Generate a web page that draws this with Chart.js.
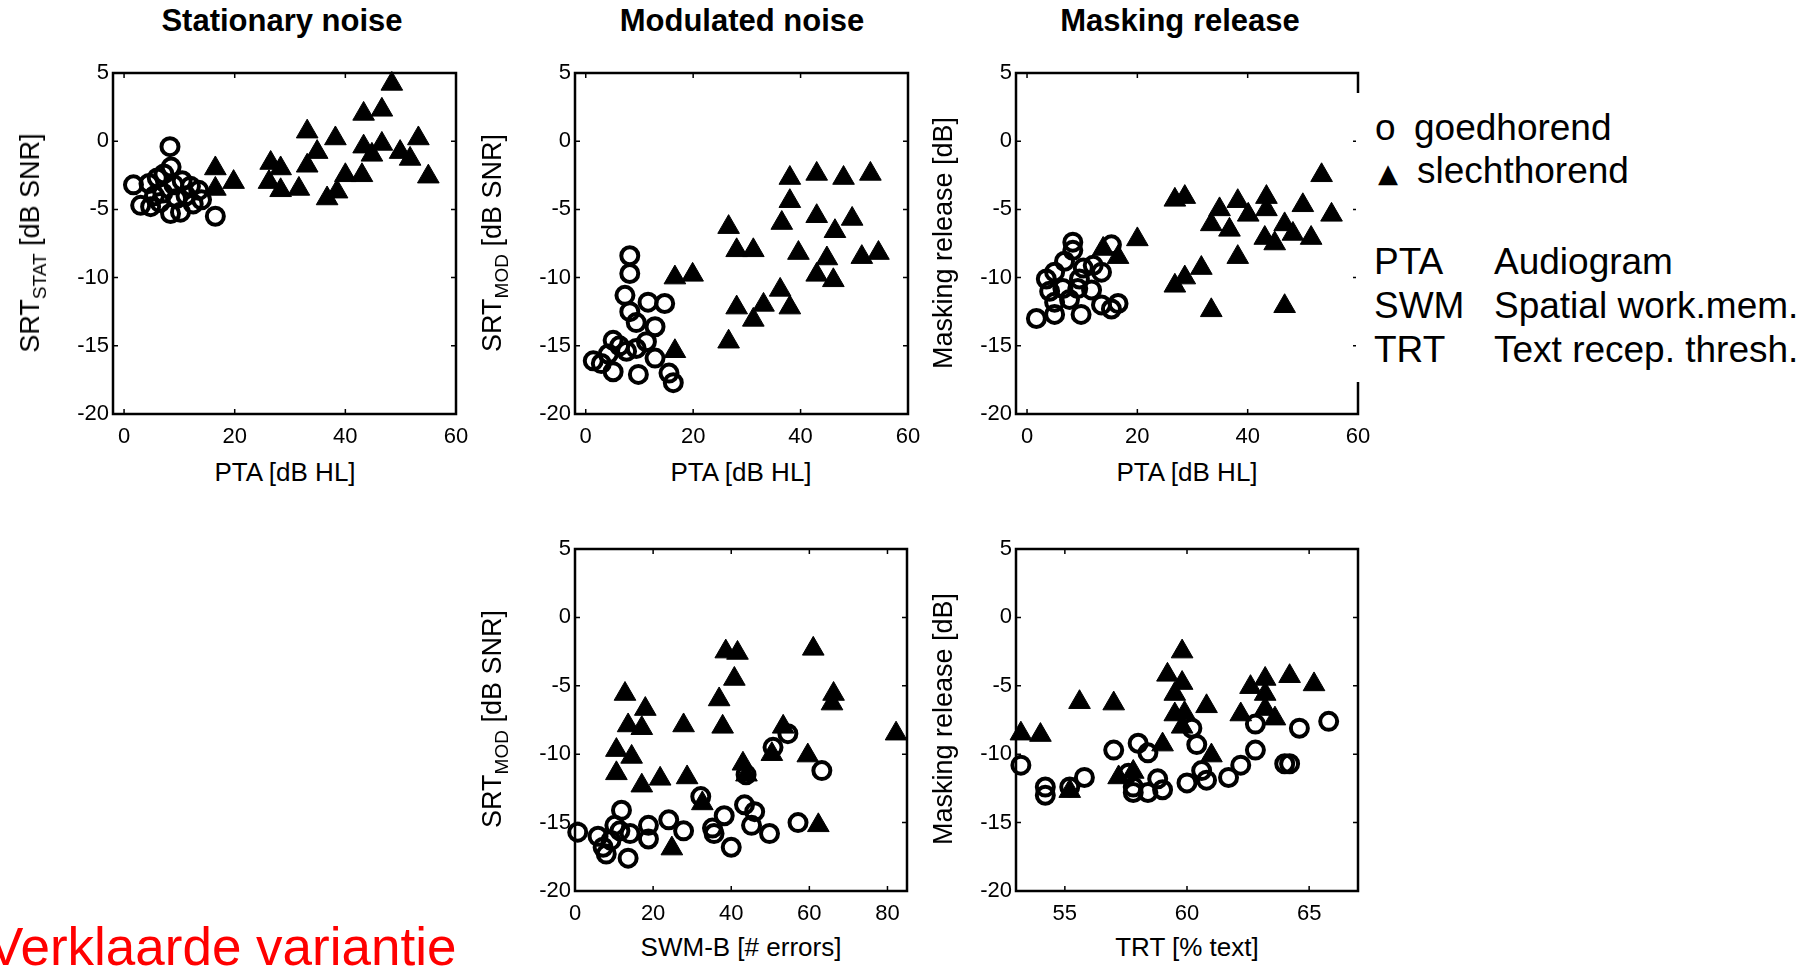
<!DOCTYPE html>
<html>
<head>
<meta charset="utf-8">
<script src="https://cdn.jsdelivr.net/npm/chart.js@4.4.0/dist/chart.umd.min.js"></script>
<style>
  body { margin: 0; width: 1818px; height: 966px; background: #fff; position: relative; overflow: hidden;
         font-family: "Liberation Sans", Arial, sans-serif; color: #000; }
  canvas { position: absolute; }
  .t { position: absolute; white-space: nowrap; line-height: 1; }
  .title { font-weight: bold; font-size: 31px; transform: translateX(-50%); }
  .xt { font-size: 26px; transform: translate(-50%, -50%); }
  .yt { font-size: 27px; transform: translate(-50%, -50%) rotate(-90deg); }
  .yt sub { font-size: 19px; vertical-align: -7px; }
  .leg { position: absolute; left: 1356px; top: 93px; width: 462px; height: 289px; background: #fff; }
  .lg { font-size: 37px; }
</style>
</head>
<body>

<canvas id="c1"></canvas>
<canvas id="c2"></canvas>
<canvas id="c3"></canvas>
<canvas id="c4"></canvas>
<canvas id="c5"></canvas>

<div class="t title" style="left:282px; top:5px;">Stationary noise</div>
<div class="t title" style="left:742px; top:5px;">Modulated noise</div>
<div class="t title" style="left:1180px; top:5px;">Masking release</div>

<div class="t xt" style="left:285px; top:472px;">PTA [dB HL]</div>
<div class="t xt" style="left:741px; top:472px;">PTA [dB HL]</div>
<div class="t xt" style="left:1187px; top:472px;">PTA [dB HL]</div>
<div class="t xt" style="left:741px; top:947px;">SWM-B [# errors]</div>
<div class="t xt" style="left:1187px; top:947px;">TRT [% text]</div>

<div class="t yt" style="left:33px; top:243px;">SRT<sub>STAT</sub> [dB SNR]</div>
<div class="t yt" style="left:495px; top:243px;">SRT<sub>MOD</sub> [dB SNR]</div>
<div class="t yt" style="left:943px; top:243px;">Masking release [dB]</div>
<div class="t yt" style="left:495px; top:719px;">SRT<sub>MOD</sub> [dB SNR]</div>
<div class="t yt" style="left:943px; top:719px;">Masking release [dB]</div>

<div class="leg"></div>
<div class="t lg" style="left:1375px; top:109px;">o</div>
<div class="t lg" style="left:1414px; top:109px;">goedhorend</div>
<div class="t" style="left:1378px; top:160px; font-size:26px; font-family:'DejaVu Sans';">▲</div>
<div class="t lg" style="left:1417px; top:152px;">slechthorend</div>
<div class="t lg" style="left:1374px; top:243px;">PTA</div>
<div class="t lg" style="left:1494px; top:243px;">Audiogram</div>
<div class="t lg" style="left:1374px; top:287px;">SWM</div>
<div class="t lg" style="left:1494px; top:287px;">Spatial work.mem.</div>
<div class="t lg" style="left:1374px; top:331px;">TRT</div>
<div class="t lg" style="left:1494px; top:331px;">Text recep. thresh.</div>

<div class="t" style="left:-12px; top:920px; font-size:53px; color:#ff0000;">Verklaarde variantie</div>

<script>
// tick labels
const ptaTicks = [0, 20, 40, 60];
const swmTicks = [0, 20, 40, 60, 80];
const trtTicks = [55, 60, 65];
const dbTicks = [5, 0, -5, -10, -15, -20];

// [x, y] per subject
// stationary noise vs PTA
const statGood = [[8.3,-0.4],[8.5,-1.9],[1.7,-3.2],[3.0,-4.7],[4.8,-4.8],[8.4,-5.3],[10.2,-5.2],[16.5,-5.5],
  [4.5,-3.1],[6.0,-2.7],[7.2,-2.4],[9.0,-3.2],[10.5,-2.9],[12.0,-3.3],[13.5,-3.6],[5.5,-4.0],[7.0,-3.8],
  [9.5,-4.2],[11.2,-4.0],[14.0,-4.3],[6.5,-4.5],[12.5,-4.6]];
const statPoor = [[16.5,-2.0],[19.8,-3.0],[16.5,-3.5],[26.5,-1.6],[28.3,-2.0],[26.2,-3.0],[28.3,-3.6],[31.6,-3.5],
  [33.1,0.7],[34.9,-0.8],[33.1,-1.8],[38.2,0.2],[36.7,-4.2],[38.5,-3.7],[40.0,-2.5],[43.0,-2.5],[43.3,2.0],
  [46.6,2.3],[48.4,4.2],[43.3,-0.4],[44.8,-1.0],[46.6,-0.2],[49.9,-0.8],[51.7,-1.3],[53.2,0.2],[55.0,-2.6]];

// modulated noise vs PTA
const modGood = [[8.2,-8.4],[8.2,-9.7],[7.3,-11.3],[8.2,-12.5],[11.6,-11.8],[14.7,-11.9],[12.9,-13.6],[9.4,-13.3],
  [5.1,-14.6],[6.3,-15.0],[9.4,-15.2],[1.4,-16.1],[2.9,-16.3],[5.1,-16.9],[9.8,-17.1],[12.9,-15.9],[16.3,-17.7],
  [11.3,-14.7],[7.6,-15.4],[4.2,-15.6],[15.5,-17.0]];
const modPoor = [[16.6,-10.0],[19.9,-9.8],[16.6,-15.4],[26.6,-6.3],[28.1,-8.0],[31.2,-8.0],[36.5,-6.0],[38.0,-2.7],
  [38.0,-4.4],[43.0,-2.4],[48.0,-2.7],[53.0,-2.4],[43.0,-5.5],[49.6,-5.7],[46.4,-6.6],[39.6,-8.2],[44.9,-8.6],
  [51.4,-8.5],[54.5,-8.2],[43.0,-9.8],[46.1,-10.2],[36.2,-10.9],[28.1,-12.2],[31.2,-13.1],[33.1,-12.0],
  [38.0,-12.2],[26.6,-14.7]];

// masking release vs PTA
const mrGood = [[8.3,-7.4],[8.3,-8.0],[15.3,-7.6],[1.7,-13.0],[5.0,-12.7],[9.8,-12.7],[13.5,-12.0],[4.1,-11.0],
  [5.0,-9.6],[6.8,-8.8],[10.2,-9.3],[12.0,-9.1],[13.5,-9.6],[6.5,-10.8],[9.2,-10.8],[11.7,-10.9],[5.0,-11.8],
  [7.7,-11.6],[9.5,-10.1],[15.3,-12.3],[16.5,-11.9],[3.5,-10.1]];
const mrPoor = [[13.8,-7.9],[16.5,-8.5],[20.0,-7.2],[26.8,-4.3],[28.6,-4.1],[53.4,-2.5],[34.9,-5.0],[38.2,-4.4],
  [40.1,-5.4],[43.4,-4.1],[43.4,-5.0],[50.0,-4.7],[55.2,-5.4],[33.4,-6.1],[36.7,-6.5],[46.7,-6.1],[48.2,-6.8],
  [43.1,-7.1],[44.9,-7.5],[51.5,-7.1],[38.2,-8.5],[31.6,-9.3],[28.6,-10.0],[26.8,-10.6],[33.4,-12.4],[46.7,-12.1]];

// modulated noise vs SWM-B
const swmGood = [[0.7,-15.7],[5.9,-16.0],[7.2,-16.8],[8.0,-17.3],[9.2,-16.3],[10.2,-15.2],[11.9,-14.1],[14.1,-15.8],
  [13.6,-17.6],[11.5,-15.6],[18.8,-15.2],[18.8,-16.2],[24.0,-14.8],[27.8,-15.6],[32.2,-13.1],[35.2,-15.4],
  [35.6,-15.8],[38.2,-14.5],[40.0,-16.8],[43.4,-13.7],[43.8,-11.5],[46.0,-14.2],[45.2,-15.2],[49.8,-15.8],
  [50.7,-9.5],[54.5,-8.5],[57.1,-15.0],[63.2,-11.2]];
const swmPoor = [[12.8,-5.6],[18.0,-6.7],[13.6,-7.9],[17.1,-8.1],[10.6,-9.7],[14.5,-10.2],[10.6,-11.4],[17.1,-12.3],
  [21.8,-11.8],[27.8,-7.9],[28.7,-11.7],[32.6,-13.6],[24.8,-16.9],[36.9,-6.0],[37.8,-8.0],[38.6,-2.5],
  [41.6,-2.6],[40.8,-4.5],[43.0,-10.7],[43.9,-11.5],[50.4,-10.0],[53.3,-8.0],[59.6,-10.1],[61.0,-2.3],
  [66.2,-5.6],[65.8,-6.3],[62.3,-15.2],[82.2,-8.5]];

// masking release vs TRT
const trtGood = [[53.2,-10.8],[54.2,-12.4],[54.2,-13.0],[55.2,-12.4],[55.8,-11.7],[57.0,-9.7],[58.0,-9.2],[58.4,-9.9],
  [57.6,-11.4],[57.8,-12.4],[57.8,-12.8],[58.4,-12.8],[58.8,-11.8],[59.0,-12.6],[60.0,-12.1],[60.2,-8.1],
  [60.4,-9.3],[60.6,-11.2],[60.8,-11.9],[61.7,-11.7],[62.2,-10.8],[62.8,-9.7],[62.8,-7.8],[64.0,-10.7],
  [64.2,-10.7],[64.6,-8.1],[65.8,-7.6]];
const trtPoor = [[53.2,-8.5],[54.0,-8.6],[55.6,-6.2],[57.0,-6.3],[55.2,-12.7],[57.2,-11.7],[57.8,-11.3],[59.0,-9.3],
  [59.2,-4.2],[59.8,-2.5],[59.5,-5.6],[59.8,-4.8],[59.5,-7.1],[59.9,-7.0],[59.8,-8.0],[60.8,-6.5],[61.0,-10.1],
  [62.6,-5.1],[63.2,-4.5],[63.2,-5.6],[64.2,-4.3],[65.2,-4.9],[62.2,-7.1],[63.2,-6.7],[63.6,-7.4]];

// plot areas on the page
const panels = [
  { id: 'c1', L: 113, T: 73, R: 456, B: 414, xmin: -2, xmax: 60, xticks: ptaTicks, good: statGood, poor: statPoor },
  { id: 'c2', L: 575, T: 73, R: 908, B: 414, xmin: -2, xmax: 60, xticks: ptaTicks, good: modGood, poor: modPoor },
  { id: 'c3', L: 1016, T: 73, R: 1358, B: 414, xmin: -2, xmax: 60, xticks: ptaTicks, good: mrGood, poor: mrPoor },
  { id: 'c4', L: 575, T: 549, R: 907, B: 891, xmin: 0, xmax: 85, xticks: swmTicks, good: swmGood, poor: swmPoor },
  { id: 'c5', L: 1016, T: 549, R: 1358, B: 891, xmin: 53, xmax: 67, xticks: trtTicks, good: trtGood, poor: trtPoor },
];

const padL = 70, padT = 20, padR = 30, padB = 40;

// box round the plot with small inward ticks on all four sides
const framePlugin = {
  id: 'frame',
  beforeDatasetsDraw(chart) {
    const { ctx, chartArea: a, scales } = chart;
    ctx.save();
    ctx.strokeStyle = '#000';
    ctx.lineWidth = 2.5;
    ctx.strokeRect(a.left, a.top, a.right - a.left, a.bottom - a.top);
    ctx.lineWidth = 1.5;
    ctx.beginPath();
    scales.x.ticks.forEach(t => {
      const px = scales.x.getPixelForValue(t.value);
      ctx.moveTo(px, a.bottom); ctx.lineTo(px, a.bottom - 5);
      ctx.moveTo(px, a.top); ctx.lineTo(px, a.top + 5);
    });
    scales.y.ticks.forEach(t => {
      const py = scales.y.getPixelForValue(t.value);
      ctx.moveTo(a.left, py); ctx.lineTo(a.left + 5, py);
      ctx.moveTo(a.right, py); ctx.lineTo(a.right - 5, py);
    });
    ctx.stroke();
    ctx.restore();
  }
};

const toXY = arr => arr.map(p => ({ x: p[0], y: p[1] }));

panels.forEach(p => {
  const cv = document.getElementById(p.id);
  cv.width = p.R - p.L + padL + padR;
  cv.height = p.B - p.T + padT + padB;
  cv.style.left = (p.L - padL) + 'px';
  cv.style.top = (p.T - padT) + 'px';

  new Chart(cv.getContext('2d'), {
    type: 'scatter',
    data: {
      datasets: [
        {
          label: 'slechthorend',
          data: toXY(p.poor),
          pointStyle: 'triangle',
          pointRadius: 12.5,
          backgroundColor: '#000',
          borderColor: '#000',
          borderWidth: 1,
          clip: false,
        },
        {
          label: 'goedhorend',
          data: toXY(p.good),
          pointStyle: 'circle',
          pointRadius: 8.5,
          backgroundColor: 'rgba(0,0,0,0)',
          borderColor: '#000',
          borderWidth: 4,
          clip: false,
        },
      ],
    },
    options: {
      responsive: false,
      animation: false,
      events: [],
      layout: { padding: { left: 0, top: padT, right: padR, bottom: 0 } },
      plugins: { legend: { display: false }, tooltip: { enabled: false } },
      scales: {
        x: {
          type: 'linear',
          min: p.xmin,
          max: p.xmax,
          afterBuildTicks: s => { s.ticks = p.xticks.map(v => ({ value: v })); },
          afterFit: s => { s.height = padB; },
          grid: { display: false, drawTicks: false },
          border: { display: false },
          ticks: { color: '#000', padding: 10, font: { family: 'Liberation Sans', size: 22 } },
        },
        y: {
          type: 'linear',
          min: -20,
          max: 5,
          afterBuildTicks: s => { s.ticks = dbTicks.map(v => ({ value: v })); },
          afterFit: s => { s.width = padL; },
          grid: { display: false, drawTicks: false },
          border: { display: false },
          ticks: { color: '#000', padding: 4, font: { family: 'Liberation Sans', size: 22 } },
        },
      },
    },
    plugins: [framePlugin],
  });
});
</script>
</body>
</html>
